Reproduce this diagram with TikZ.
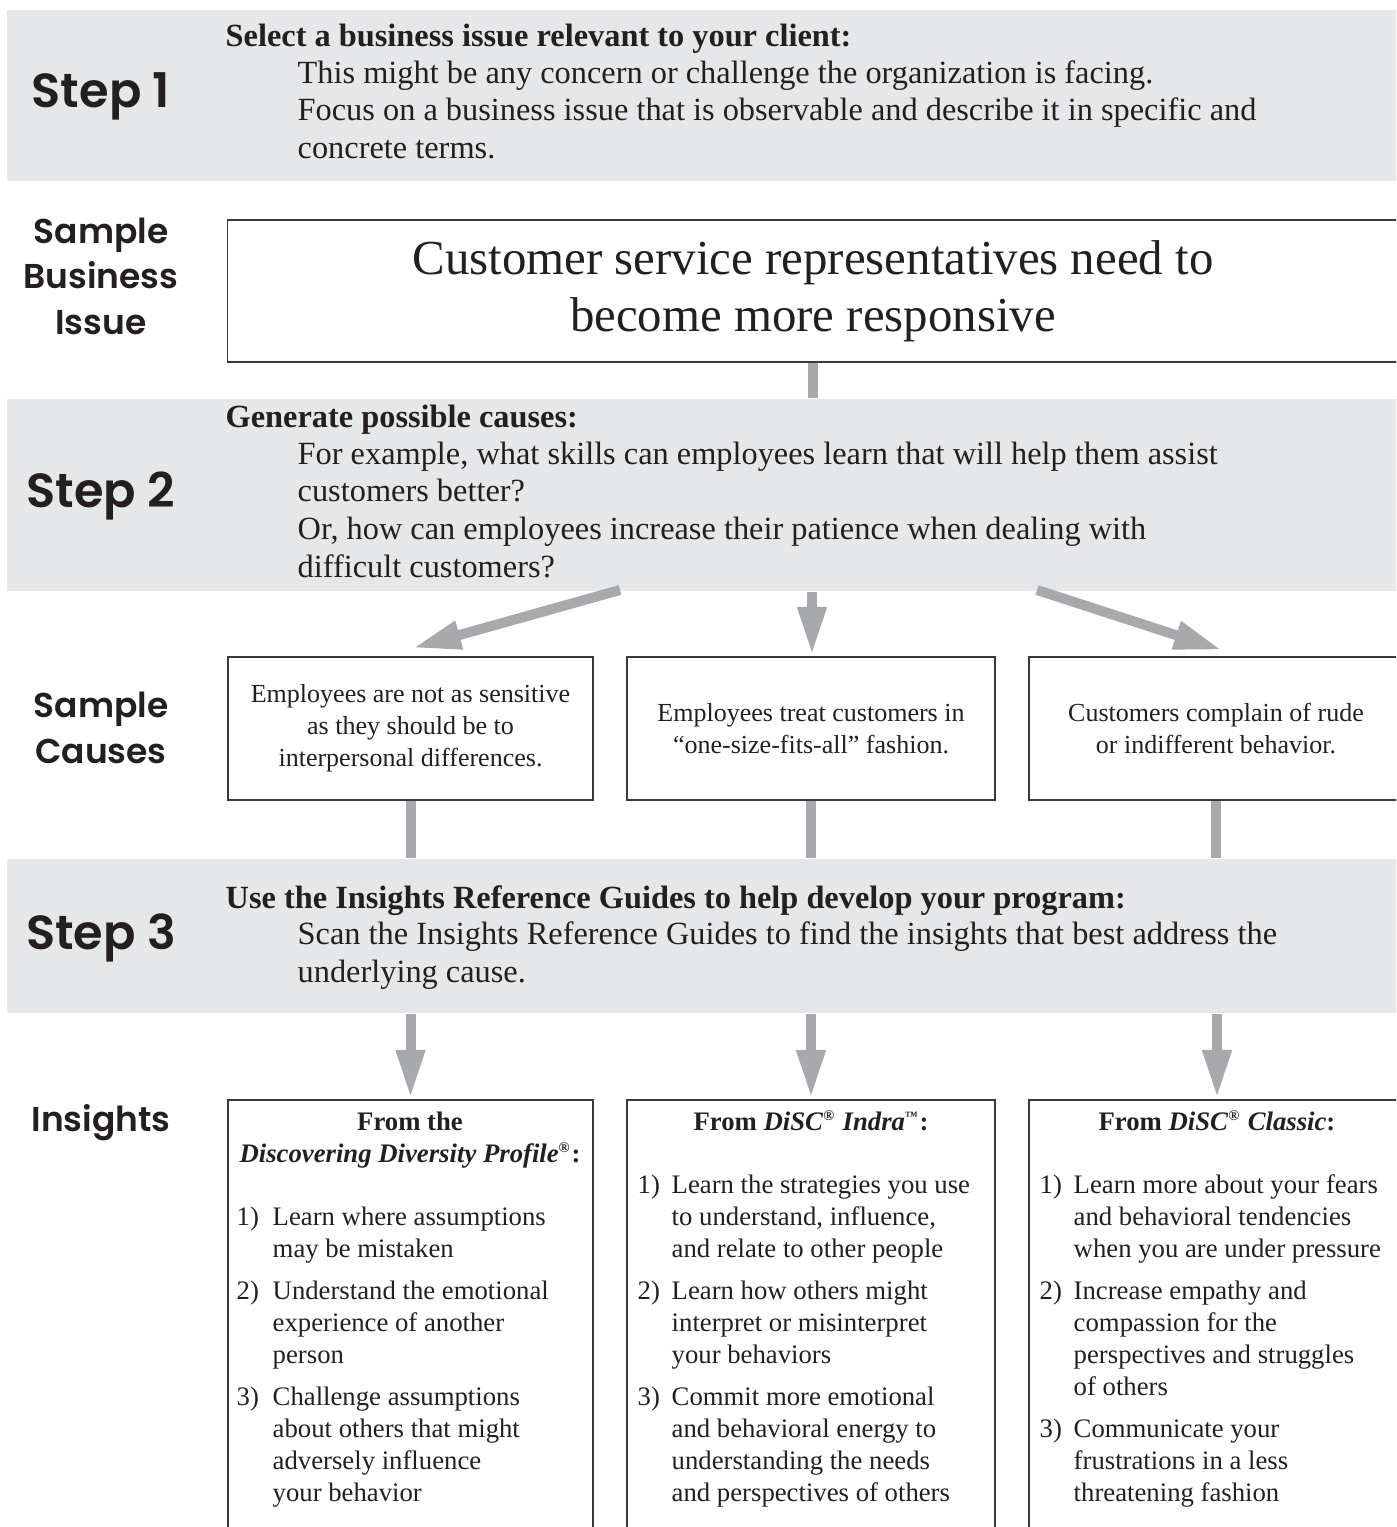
\documentclass[tikz,border=0pt]{standalone}
\usepackage{fontspec}
\setmainfont{Liberation Serif}
\newfontfamily\gothfont{Poppins SemiBold}
\usetikzlibrary{arrows.meta}

\definecolor{bandgray}{HTML}{E6E7E9}
\definecolor{linkgray}{HTML}{A7A9AC}
\definecolor{ink}{HTML}{231F20}
\definecolor{boxline}{HTML}{3A3A3A}

\newcommand\bandfont{\fontsize{9.2pt}{10.67pt}\selectfont}
\newcommand\boxfont{\fontsize{7.6pt}{9.1pt}\selectfont}
\newcommand\causefont{\fontsize{7.4pt}{9.1pt}\selectfont}
\newcommand\issuefont{\fontsize{13.9pt}{16.2pt}\selectfont}
\newcommand\stepfont{\gothfont\fontsize{13.6pt}{16pt}\selectfont}
\newcommand\sidefont{\gothfont\fontsize{9.8pt}{12.8pt}\selectfont}
% small raised trade marks
\newcommand\regmark{\textsuperscript{\fontsize{4.2pt}{4.2pt}\selectfont ®}}
\newcommand\tmmark{\textsuperscript{\fontsize{3.6pt}{3.6pt}\selectfont ™}}
% numbered list entries with a hanging indent
\newcommand\lstitem[2][0.34cm]{\makebox[#1][l]{#2}}

\begin{document}
\begin{tikzpicture}[x=0.01cm, y=-0.01cm,
  band/.style={fill=bandgray, draw=none, inner sep=0pt, anchor=north west},
  boxframe/.style={draw=boxline, line width=0.45pt, inner sep=0pt},
  bandhead/.style={font=\bandfont\bfseries, text=ink, inner sep=0pt, anchor=base west},
  bandbody/.style={font=\bandfont, text=ink, inner sep=0pt, anchor=base west, align=left},
  steplabel/.style={font=\stepfont, text=ink, inner sep=0pt, anchor=base},
  sidelabel/.style={font=\sidefont, text=ink, inner sep=0pt, anchor=base, align=center},
  boxhead/.style={font=\boxfont\bfseries, text=ink, inner sep=0pt, anchor=base, align=center},
  boxlist/.style={font=\boxfont, text=ink, inner sep=0pt, anchor=base west, align=left},
  causebox/.style={boxframe, minimum height=1.43cm, align=center, font=\causefont, text=ink},
  linkbar/.style={draw=linkgray, line width=0.1cm},
  linkarrow/.style={linkbar, -{Triangle[length=0.48cm,width=0.27cm]}}
]
\useasboundingbox (0,0) rectangle (1396,1527);
\clip (0,0) rectangle (1396,1527);

% grey step bands
\node[band, minimum width=13.94cm, minimum height=1.71cm] (band1) at (6,9) {};
\node[band, minimum width=13.94cm, minimum height=1.92cm] (band2) at (6,398) {};
\node[band, minimum width=13.94cm, minimum height=1.54cm] (band3) at (6,858) {};

% boxes
\node[boxframe, minimum width=11.70cm, minimum height=1.42cm, align=center,
      font=\issuefont, text=ink] (issue) at (813,291)
  {Customer service representatives need to\\become more responsive};

\node[causebox, minimum width=3.65cm] (c1) at (410.5,728.5)
  {Employees are not as sensitive\\as they should be to\\interpersonal differences.};
\node[causebox, minimum width=3.68cm] (c2) at (811,728.5)
  {Employees treat customers in\\``one-size-fits-all'' fashion.};
\node[causebox, minimum width=3.74cm] (c3) at (1216,728.5)
  {Customers complain of rude\\or indifferent behavior.};

\node[boxframe, minimum width=3.65cm, minimum height=4.40cm] (ins1) at (410.5,1320) {};
\node[boxframe, minimum width=3.68cm, minimum height=4.40cm] (ins2) at (811,1320) {};
\node[boxframe, minimum width=3.76cm, minimum height=4.40cm] (ins3) at (1217,1320) {};

% connectors
\coordinate (s2a) at (620,590);  \coordinate (t2a) at (413,648);
\coordinate (s2c) at (1037,590); \coordinate (t2c) at (1222,650);
\coordinate (t2b) at (812,655);
\coordinate (t3) at (0,1098);

\draw[linkbar] (issue.south) -- (band2.north -| issue.south);
\draw[linkarrow] (s2a) -- (t2a);
\draw[linkarrow] (band2.south -| t2b) -- (t2b);
\draw[linkarrow] (s2c) -- (t2c);

\draw[linkbar] (c1.south) -- (band3.north -| c1.south);
\draw[linkbar] (c2.south) -- (band3.north -| c2.south);
\draw[linkbar] (c3.south) -- (band3.north -| c3.south);

\draw[linkarrow] (band3.south -| ins1.north) -- (t3 -| ins1.north);
\draw[linkarrow] (band3.south -| ins2.north) -- (t3 -| ins2.north);
\draw[linkarrow] (band3.south -| ins3.north) -- (t3 -| ins3.north);

% left column labels (multi-line nodes sit on their last baseline)
\node[steplabel] (st1) at (101,107) {Step 1};
\node[sidelabel] (lb1) at (101,334) {Sample\\Business\\Issue};
\node[steplabel] (st2) at (101,507) {Step 2};
\node[sidelabel] (lb2) at (101,763) {Sample\\Causes};
\node[steplabel] (st3) at (101,949) {Step 3};
\node[sidelabel] (lb3) at (101,1131) {Insights};

% band texts
\node[bandhead] (h1) at (225,46) {Select a business issue relevant to your client:};
\node[bandbody] (b1) at (297,158.5)
  {This might be any concern or challenge the organization is facing.\\
   Focus on a business issue that is observable and describe it in specific and\\
   concrete terms.};

\node[bandhead] (h2) at (225,427) {Generate possible causes:};
\node[bandbody] (b2) at (297,577)
  {For example, what skills can employees learn that will help them assist\\
   customers better?\\
   Or, how can employees increase their patience when dealing with\\
   difficult customers?};

\node[bandhead] (h3) at (225,908) {Use the Insights Reference Guides to help develop your program:};
\node[bandbody] (b3) at (297,982)
  {Scan the Insights Reference Guides to find the insights that best address the\\
   underlying cause.};

% insight lists
\node[boxhead] (ih1) at (410,1162)
  {From the\\\textit{Discovering Diversity Profile}\regmark:};
\node[boxlist] (il1) at (236,1501)
  {\lstitem[0.36cm]{1)}Learn where assumptions\\
   \lstitem[0.36cm]{}may be mistaken\\[0.095cm]
   \lstitem[0.36cm]{2)}Understand the emotional\\
   \lstitem[0.36cm]{}experience of another\\
   \lstitem[0.36cm]{}person\\[0.095cm]
   \lstitem[0.36cm]{3)}Challenge assumptions\\
   \lstitem[0.36cm]{}about others that might\\
   \lstitem[0.36cm]{}adversely influence\\
   \lstitem[0.36cm]{}your behavior};

\node[boxhead] (ih2) at (811,1130)
  {From \textit{DiSC}\regmark{} \textit{Indra}\tmmark:};
\node[boxlist] (il2) at (637,1501)
  {\lstitem{1)}Learn the strategies you use\\
   \lstitem{}to understand, influence,\\
   \lstitem{}and relate to other people\\[0.095cm]
   \lstitem{2)}Learn how others might\\
   \lstitem{}interpret or misinterpret\\
   \lstitem{}your behaviors\\[0.095cm]
   \lstitem{3)}Commit more emotional\\
   \lstitem{}and behavioral energy to\\
   \lstitem{}understanding the needs\\
   \lstitem{}and perspectives of others};

\node[boxhead] (ih3) at (1217,1130)
  {From \textit{DiSC}\regmark{} \textit{Classic}:};
\node[boxlist] (il3) at (1039,1501)
  {\lstitem{1)}Learn more about your fears\\
   \lstitem{}and behavioral tendencies\\
   \lstitem{}when you are under pressure\\[0.095cm]
   \lstitem{2)}Increase empathy and\\
   \lstitem{}compassion for the\\
   \lstitem{}perspectives and struggles\\
   \lstitem{}of others\\[0.095cm]
   \lstitem{3)}Communicate your\\
   \lstitem{}frustrations in a less\\
   \lstitem{}threatening fashion};
\end{tikzpicture}
\end{document}
